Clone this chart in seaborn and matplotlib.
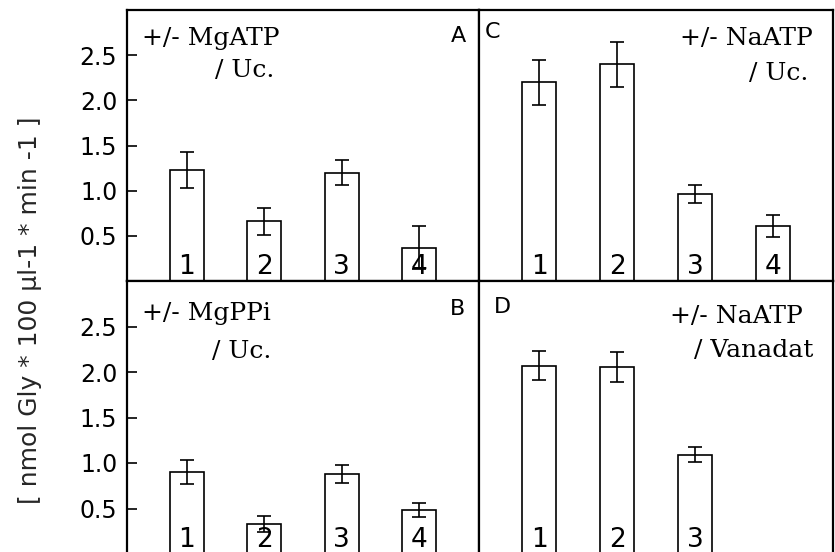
import matplotlib
matplotlib.use("Agg")
import matplotlib.pyplot as plt
import seaborn as sns
import pandas as pd

# ---- data ----
cats_4 = ["1", "2", "3", "4"]
cats_3 = ["1", "2", "3"]

a_vals = [1.23, 0.66, 1.20, 0.37]
a_err = [0.20, 0.15, 0.14, 0.24]

c_vals = [2.20, 2.40, 0.96, 0.61]
c_err = [0.25, 0.25, 0.10, 0.12]

b_vals = [0.90, 0.33, 0.88, 0.48]
b_err = [0.13, 0.085, 0.10, 0.075]

d_vals = [2.07, 2.06, 1.09]
d_err = [0.16, 0.165, 0.082]

yticks = [0.5, 1.0, 1.5, 2.0, 2.5]
ylabel = "[ nmol Gly * 100 \u00b5l-1 * min -1 ]"

W, H = 835, 552
sns.set_theme(style="white")
plt.rcParams["font.family"] = ["DejaVu Sans"]

fig = plt.figure(figsize=(W / 100, H / 100), dpi=100)


def ax_px(x0, y0, x1, y1):
    return fig.add_axes([x0 / W, 1 - y1 / H, (x1 - x0) / W, (y1 - y0) / H])


def ftext(x, y, s, **kw):
    fig.text(x / W, 1 - y / H, s, **kw)


axA = ax_px(127, 10, 479, 281)
axC = ax_px(479, 10, 833, 281)
axB = ax_px(127, 281, 479, 554)
axD = ax_px(479, 281, 833, 554)

panels = [
    (axA, cats_4, a_vals, a_err, True),
    (axC, cats_4, c_vals, c_err, False),
    (axB, cats_4, b_vals, b_err, True),
    (axD, cats_3, d_vals, d_err, False),
]

for ax, cats, vals, errs, left in panels:
    df = pd.DataFrame({"cat": cats, "val": vals})
    sns.barplot(data=df, x="cat", y="val", ax=ax, color="white",
                edgecolor="black", linewidth=1.2, width=0.435,
                errorbar=None, saturation=1)
    xs = list(range(len(cats)))
    ax.errorbar(xs, vals, yerr=errs, fmt="none", ecolor="black",
                elinewidth=1.2, capsize=5, capthick=1.2, zorder=3)
    for i, c in zip(xs, cats):
        ax.text(i, 0.075, c, ha="center", va="baseline", fontsize=19,
                color="black", zorder=4)
    ax.set_xlim(-0.77, 3.77)
    ax.set_ylim(0, 3.0)
    ax.set_xlabel("")
    ax.set_ylabel("")
    ax.set_xticks([])
    for sp in ax.spines.values():
        sp.set_visible(True)
        sp.set_color("black")
        sp.set_linewidth(1.6)
    if left:
        ax.set_yticks(yticks)
        ax.set_yticklabels([f"{t:.1f}" for t in yticks], fontsize=17)
        ax.tick_params(axis="y", direction="in", length=7, width=1.2,
                       left=True, pad=7, colors="black")
    else:
        ax.set_yticks([])

serif = {"family": ["DejaVu Serif"], "fontsize": 18, "color": "black",
         "va": "baseline"}
letter = {"ha": "center", "va": "baseline", "fontsize": 16,
          "color": "black"}
# panel A
ftext(142, 45, "+/- MgATP", ha="left", **serif)
ftext(215, 77, "/ Uc.", ha="left", **serif)
ftext(458, 42, "A", **letter)
# panel C
ftext(813, 45, "+/- NaATP", ha="right", **serif)
ftext(808, 80, "/ Uc.", ha="right", **serif)
ftext(493, 38, "C", **letter)
# panel B
ftext(142, 320, "+/- MgPPi", ha="left", **serif)
ftext(212, 358, "/ Uc.", ha="left", **serif)
ftext(457, 315, "B", **letter)
# panel D
ftext(803, 323, "+/- NaATP", ha="right", **serif)
ftext(813, 357, "/ Vanadat", ha="right", **serif)
ftext(502, 313, "D", **letter)

ftext(30, 310, ylabel, ha="center", va="center", rotation=90, fontsize=18)

fig.savefig("out.png", dpi=100)
